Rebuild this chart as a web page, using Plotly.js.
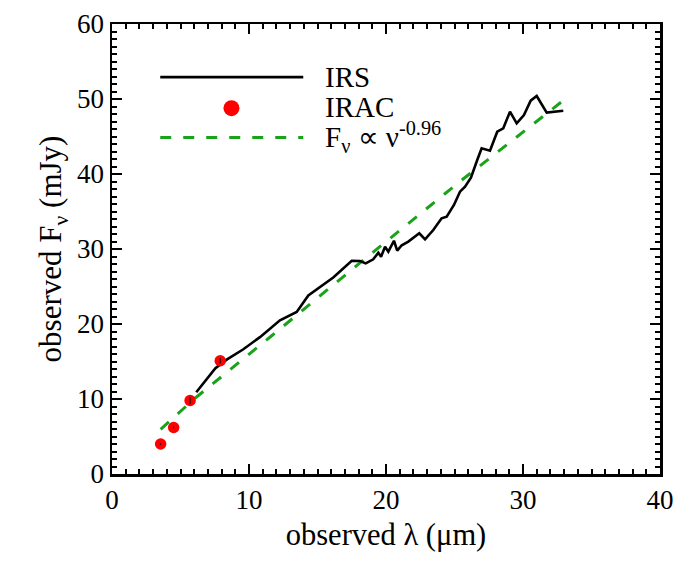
<!DOCTYPE html>
<html>
<head>
<meta charset="utf-8">
<script src="https://cdn.plot.ly/plotly-3.0.1.min.js"></script>
<style>html,body{margin:0;padding:0;background:#fff;}#plot{width:692px;height:576px;}</style>
</head>
<body>
<div id="plot"></div>
<script>
// IRS spectrum (observed wavelength in micron, flux in mJy)
const irsWave = [6.15, 7.55, 8.37, 9.56, 10.8, 12.26, 13.48, 14.33, 16.15, 17.5, 18.1, 18.52, 19.07, 19.44, 19.64, 19.93, 20.17, 20.58, 20.82, 21.15, 21.63, 22.43, 22.85, 23.45, 24.06, 24.43, 24.96, 25.4, 25.77, 26.2, 26.66, 26.98, 27.59, 28.12, 28.56, 29.05, 29.54, 30.07, 30.56, 31.0, 31.73, 32.94];
const irsFlux = [10.9, 14.1, 15.25, 16.6, 18.25, 20.5, 21.6, 23.8, 26.2, 28.44, 28.4, 28.09, 28.62, 29.5, 28.98, 30.3, 29.64, 31.1, 29.78, 30.5, 30.98, 32.09, 31.29, 32.53, 34.09, 34.31, 35.87, 37.64, 38.31, 39.5, 41.87, 43.42, 43.11, 45.64, 46.09, 48.31, 46.76, 47.87, 49.78, 50.4, 48.18, 48.44];

// IRAC photometry
const iracWave = [3.55, 4.5, 5.7, 7.9];
const iracFlux = [4.0, 6.2, 9.8, 15.1];
const iracErr = [0.12, 0.15, 0.5, 0.35];

// Power-law model F_nu ∝ nu^-0.96
const modelWave = [3.55, 6.06, 11.7, 18.8, 25.4, 32.94];
const modelFlux = [5.96, 10.1, 18.5, 29.2, 39.0, 49.8];

const xTicks = [0, 10, 20, 30, 40];
const yTicks = [0, 10, 20, 30, 40, 50, 60];

const legendLabels = ['IRS', 'IRAC', 'F<sub>ν</sub> ∝ ν<sup>-0.96</sup>'];

const FONT = 'Liberation Serif, Times New Roman, serif';
const GREEN = '#1aa31a';

const traces = [
  {x: modelWave, y: modelFlux, mode: 'lines', line: {color: GREEN, width: 3, dash: '11px,12px'}, hoverinfo: 'skip'},
  {x: irsWave, y: irsFlux, mode: 'lines', line: {color: '#000', width: 2.6}, hoverinfo: 'skip'},
  {x: iracWave, y: iracFlux, mode: 'markers', marker: {color: '#ff0000', size: 11.5}, hoverinfo: 'skip'},
  {x: iracWave, y: iracFlux, mode: 'markers', marker: {color: 'rgba(0,0,0,0)', size: 1},
   error_y: {type: 'data', array: iracErr, color: '#000', thickness: 1, width: 0}, hoverinfo: 'skip'}
];

const axisCommon = {
  showgrid: false, zeroline: false, showline: true, linecolor: '#000', linewidth: 2.5,
  mirror: 'ticks', ticks: 'inside', ticklen: 10, tickwidth: 2.5, tickcolor: '#000',
  tickfont: {family: FONT, size: 27, color: '#000'},
  minor: {dtick: 1, ticks: 'inside', ticklen: 5, tickwidth: 2, tickcolor: '#000'}
};

const layout = {
  width: 692, height: 576,
  margin: {l: 112, r: 32, t: 24, b: 102},
  paper_bgcolor: '#fff', plot_bgcolor: '#fff',
  showlegend: false,
  font: {family: FONT, color: '#000'},
  xaxis: Object.assign({}, axisCommon, {
    range: [0, 40], tickvals: xTicks, ticktext: xTicks.map(String),
    title: {text: 'observed λ (μm)', font: {family: FONT, size: 30.5, color: '#000'}, standoff: 10}
  }),
  yaxis: Object.assign({}, axisCommon, {
    range: [0, 60], tickvals: yTicks, ticktext: yTicks.map(String),
    title: {text: 'observed F<sub>ν</sub> (mJy)', font: {family: FONT, size: 31, color: '#000'}, standoff: 6}
  }),
  shapes: [
    {type: 'line', xref: 'paper', yref: 'paper', x0: 0.088, x1: 0.349, y0: 0.882, y1: 0.882, line: {color: '#000', width: 2.6}},
    {type: 'circle', xref: 'paper', yref: 'paper', xsizemode: 'pixel', ysizemode: 'pixel',
     xanchor: 0.218, yanchor: 0.813, x0: -8, x1: 8, y0: -8, y1: 8, fillcolor: '#ff0000', line: {width: 0}},
    {type: 'line', xref: 'paper', yref: 'paper', x0: 0.088, x1: 0.349, y0: 0.748, y1: 0.748, line: {color: GREEN, width: 3, dash: '11px,12px'}}
  ],
  annotations: [
    {xref: 'paper', yref: 'paper', x: 0.385, y: 0.882, xanchor: 'left', yanchor: 'middle', showarrow: false, text: legendLabels[0], font: {family: FONT, size: 29, color: '#000'}},
    {xref: 'paper', yref: 'paper', x: 0.385, y: 0.815, xanchor: 'left', yanchor: 'middle', showarrow: false, text: legendLabels[1], font: {family: FONT, size: 29, color: '#000'}},
    {xref: 'paper', yref: 'paper', x: 0.385, y: 0.75, xanchor: 'left', yanchor: 'middle', showarrow: false, text: legendLabels[2], font: {family: FONT, size: 29, color: '#000'}}
  ]
};

Plotly.newPlot('plot', traces, layout, {displayModeBar: false, staticPlot: true});
</script>
</body>
</html>
